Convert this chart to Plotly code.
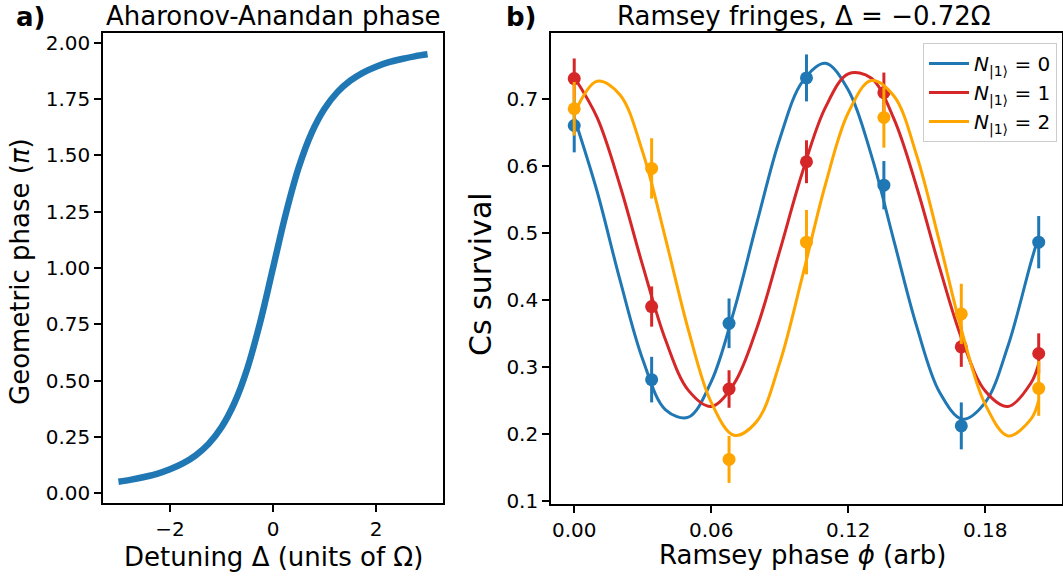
import plotly.graph_objects as go

# ---------------- data ----------------
# Panel a: Aharonov-Anandan geometric phase (units of pi) vs detuning
detuning = [-3.0, -2.75, -2.5, -2.25, -2.0, -1.75, -1.5, -1.25, -1.0, -0.75, -0.5, -0.25,
            0.0, 0.25, 0.5, 0.75, 1.0, 1.25, 1.5, 1.75, 2.0, 2.25, 2.5, 2.75, 3.0]
geo_phase = [0.051, 0.060, 0.072, 0.086, 0.106, 0.132, 0.168, 0.219, 0.293, 0.400, 0.553, 0.758,
             1.000, 1.242, 1.447, 1.600, 1.707, 1.781, 1.832, 1.868, 1.894, 1.914, 1.928, 1.940, 1.949]

# Panel b: Ramsey fringes, measured points
phase_pts = [0.0, 0.0339, 0.0678, 0.1017, 0.1356, 0.1695, 0.2034]
surv_n0 = [0.660, 0.281, 0.365, 0.731, 0.571, 0.212, 0.486]
err_n0 = [0.040, 0.034, 0.037, 0.035, 0.036, 0.035, 0.039]
surv_n1 = [0.730, 0.390, 0.267, 0.606, 0.709, 0.330, 0.320]
err_n1 = [0.030, 0.030, 0.028, 0.032, 0.030, 0.030, 0.030]
surv_n2 = [0.685, 0.596, 0.162, 0.486, 0.672, 0.379, 0.268]
err_n2 = [0.040, 0.045, 0.035, 0.048, 0.045, 0.045, 0.041]

# Panel b: fitted fringe curves
phase_fit = [0.0, 0.01, 0.02, 0.03, 0.04, 0.05, 0.06, 0.07, 0.08, 0.09, 0.10,
             0.11, 0.12, 0.13, 0.14, 0.15, 0.16, 0.17, 0.18, 0.19, 0.20, 0.2034]
fit_n0 = [0.672, 0.562, 0.430, 0.311, 0.236, 0.225, 0.278, 0.384, 0.515, 0.640, 0.726,
          0.753, 0.713, 0.617, 0.488, 0.360, 0.262, 0.222, 0.247, 0.332, 0.456, 0.495]
fit_n1 = [0.732, 0.672, 0.571, 0.451, 0.340, 0.265, 0.241, 0.275, 0.358, 0.473, 0.591,
          0.687, 0.737, 0.731, 0.670, 0.568, 0.448, 0.339, 0.264, 0.241, 0.276, 0.305]
fit_n2 = [0.678, 0.726, 0.706, 0.620, 0.491, 0.355, 0.247, 0.198, 0.219, 0.306, 0.436,
          0.572, 0.679, 0.727, 0.704, 0.615, 0.486, 0.350, 0.244, 0.197, 0.222, 0.250]

series_names = ["<i>N</i><sub>|1⟩</sub> = 0", "<i>N</i><sub>|1⟩</sub> = 1", "<i>N</i><sub>|1⟩</sub> = 2"]
colors = ["#1f77b4", "#d62728", "#ffa500"]

# tick labels
a_xticks = [-2, 0, 2]
a_xticktext = ["−2", "0", "2"]
a_yticks = [0.0, 0.25, 0.5, 0.75, 1.0, 1.25, 1.5, 1.75, 2.0]
a_yticktext = ["0.00", "0.25", "0.50", "0.75", "1.00", "1.25", "1.50", "1.75", "2.00"]
b_xticks = [0.0, 0.06, 0.12, 0.18]
b_xticktext = ["0.00", "0.06", "0.12", "0.18"]
b_yticks = [0.1, 0.2, 0.3, 0.4, 0.5, 0.6, 0.7]
b_yticktext = ["0.1", "0.2", "0.3", "0.4", "0.5", "0.6", "0.7"]

# ---------------- figure ----------------
W, H = 1063, 580
FONT = "DejaVu Sans"


def px(p):
    return p / W


def py(p):
    return 1 - p / H


fig = go.Figure()

fig.add_trace(go.Scatter(x=detuning, y=geo_phase, mode="lines",
                         line=dict(color="#1f77b4", width=6.5, shape="spline"),
                         showlegend=False, xaxis="x", yaxis="y"))

for surv, err, fit, name, col in zip([surv_n0, surv_n1, surv_n2], [err_n0, err_n1, err_n2],
                                     [fit_n0, fit_n1, fit_n2], series_names, colors):
    fig.add_trace(go.Scatter(x=phase_pts, y=surv, mode="markers",
                             marker=dict(color=col, size=13, line=dict(width=0)),
                             error_y=dict(type="data", array=err, visible=True, color=col, thickness=3, width=0),
                             showlegend=False, xaxis="x2", yaxis="y2"))
    fig.add_trace(go.Scatter(x=phase_fit, y=fit, mode="lines", name=name,
                             line=dict(color=col, width=3, shape="spline"),
                             xaxis="x2", yaxis="y2"))

axis_common = dict(showline=True, mirror=True, linecolor="black", linewidth=1.6,
                   ticks="outside", ticklen=7, tickwidth=1.6, tickcolor="black",
                   showgrid=False, zeroline=False, automargin=False,
                   tickfont=dict(family=FONT, size=20, color="black"),
                   tickmode="array")

fig.update_layout(
    width=W, height=H,
    margin=dict(l=0, r=0, t=0, b=0, pad=0, autoexpand=False),
    paper_bgcolor="white", plot_bgcolor="white",
    font=dict(family=FONT, color="black"),
    xaxis=dict(domain=[px(103), px(443)], range=[-3.3, 3.3], anchor="y",
               tickvals=a_xticks, ticktext=a_xticktext, **axis_common),
    yaxis=dict(domain=[py(503), py(33)], range=[-0.0436, 2.0436], anchor="x",
               tickvals=a_yticks, ticktext=a_yticktext, **axis_common),
    xaxis2=dict(domain=[px(551), px(1062)], range=[-0.01017, 0.2136], anchor="y2",
                tickvals=b_xticks, ticktext=b_xticktext, **axis_common),
    yaxis2=dict(domain=[py(504), py(33)], range=[0.0955, 0.798], anchor="x2",
                tickvals=b_yticks, ticktext=b_yticktext, **axis_common),
    legend=dict(x=px(1057), y=py(43), xanchor="right", yanchor="top",
                bgcolor="rgba(255,255,255,0.8)", bordercolor="#cccccc", borderwidth=1,
                font=dict(family=FONT, size=20, color="black"), itemwidth=40),
    showlegend=True,
)

ann = []
ann.append(dict(text="Aharonov-Anandan phase", x=px(273), y=py(16), xref="paper", yref="paper",
                xanchor="center", yanchor="middle", showarrow=False, font=dict(family=FONT, size=26)))
ann.append(dict(text="Ramsey fringes, Δ = −0.72Ω", x=px(804), y=py(16), xref="paper", yref="paper",
                xanchor="center", yanchor="middle", showarrow=False, font=dict(family=FONT, size=26)))
ann.append(dict(text="<b>a)</b>", x=px(30), y=py(17), xref="paper", yref="paper",
                xanchor="center", yanchor="middle", showarrow=False, font=dict(family=FONT, size=26)))
ann.append(dict(text="<b>b)</b>", x=px(521), y=py(17), xref="paper", yref="paper",
                xanchor="center", yanchor="middle", showarrow=False, font=dict(family=FONT, size=26)))
ann.append(dict(text="Detuning Δ (units of Ω)", x=px(273), y=py(557), xref="paper", yref="paper",
                xanchor="center", yanchor="middle", showarrow=False, font=dict(family=FONT, size=26)))
ann.append(dict(text="Ramsey phase <i>ϕ</i> (arb)", x=px(803), y=py(555), xref="paper", yref="paper",
                xanchor="center", yanchor="middle", showarrow=False, font=dict(family=FONT, size=26)))
ann.append(dict(text="Geometric phase (<i>π</i>)", x=px(20), y=py(272), xref="paper", yref="paper",
                xanchor="center", yanchor="middle", showarrow=False, textangle=-90, font=dict(family=FONT, size=26)))
ann.append(dict(text="Cs survival", x=px(481), y=py(274), xref="paper", yref="paper",
                xanchor="center", yanchor="middle", showarrow=False, textangle=-90, font=dict(family=FONT, size=30)))
fig.update_layout(annotations=ann)

fig.write_html("out.html")
